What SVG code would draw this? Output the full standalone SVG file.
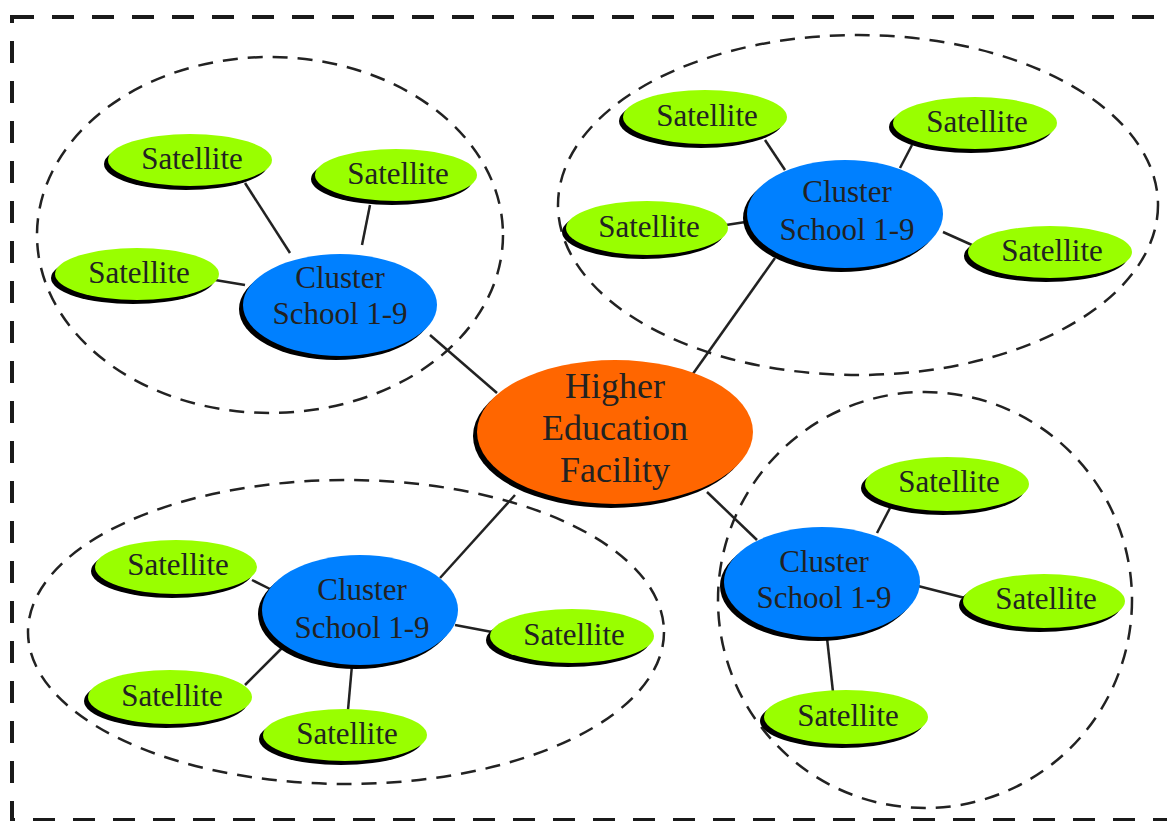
<svg xmlns="http://www.w3.org/2000/svg" width="1167" height="821" viewBox="0 0 1167 821">
<style>
.bg{fill:#fff}
.frame{fill:none;stroke:#1a1a1a;stroke-width:4;stroke-dasharray:22 18}
.grp{fill:none;stroke:#222;stroke-width:2.5;stroke-dasharray:15 10}
.ln{stroke:#222;stroke-width:2.5}
.sh{fill:#000}
.sat{fill:#99ff00}
.cl{fill:#0080ff}
.hq{fill:#ff6600}
text{font-family:"Liberation Serif","Times New Roman",serif;fill:#222;text-anchor:middle}
.ts{font-size:31px}
.tc{font-size:31px}
.th{font-size:36px}
</style>
<rect class="bg" width="1167" height="821"/>
<rect class="frame" x="12" y="17" width="1180" height="803"/>
<g id="groups">
<ellipse class="grp" cx="270" cy="235" rx="233" ry="178"/>
<ellipse class="grp" cx="858" cy="205" rx="300" ry="170"/>
<ellipse class="grp" cx="925" cy="600" rx="207" ry="208"/>
<ellipse class="grp" cx="346" cy="632" rx="318" ry="152"/>
</g>
<g id="connectors">
<line class="ln" x1="245" y1="183" x2="290" y2="253"/>
<line class="ln" x1="370" y1="205" x2="362" y2="245"/>
<line class="ln" x1="215" y1="280" x2="245" y2="285"/>
<line class="ln" x1="430" y1="335" x2="497" y2="393"/>
<line class="ln" x1="765" y1="140" x2="785" y2="170"/>
<line class="ln" x1="912" y1="145" x2="900" y2="168"/>
<line class="ln" x1="726" y1="225" x2="752" y2="221"/>
<line class="ln" x1="943" y1="232" x2="972" y2="245"/>
<line class="ln" x1="775" y1="258" x2="690" y2="378"/>
<line class="ln" x1="707" y1="492" x2="757" y2="540"/>
<line class="ln" x1="890" y1="508" x2="877" y2="533"/>
<line class="ln" x1="918" y1="586" x2="965" y2="598"/>
<line class="ln" x1="827" y1="638" x2="833" y2="692"/>
<line class="ln" x1="515" y1="495" x2="440" y2="578"/>
<line class="ln" x1="252" y1="580" x2="272" y2="590"/>
<line class="ln" x1="455" y1="625" x2="492" y2="632"/>
<line class="ln" x1="282" y1="648" x2="245" y2="685"/>
<line class="ln" x1="352" y1="665" x2="348" y2="710"/>
</g>
<g id="hq"><ellipse class="sh" cx="611" cy="436" rx="138" ry="72"/><ellipse class="hq" cx="615" cy="432" rx="138" ry="72"/><text class="th" x="615" y="398">Higher</text><text class="th" x="615" y="440">Education</text><text class="th" x="615" y="482">Facility</text></g>
<g id="cluster-tl"><ellipse class="sh" cx="336" cy="309" rx="97" ry="51"/><ellipse class="cl" cx="340" cy="305" rx="97" ry="51"/><text class="tc" x="340" y="288">Cluster</text><text class="tc" x="340" y="324">School 1-9</text></g>
<g id="cluster-tr"><ellipse class="sh" cx="841" cy="218" rx="98" ry="54"/><ellipse class="cl" cx="845" cy="214" rx="98" ry="54"/><text class="tc" x="847" y="202">Cluster</text><text class="tc" x="847" y="240">School 1-9</text></g>
<g id="cluster-br"><ellipse class="sh" cx="818" cy="586" rx="98" ry="55"/><ellipse class="cl" cx="822" cy="582" rx="98" ry="55"/><text class="tc" x="824" y="572">Cluster</text><text class="tc" x="824" y="608">School 1-9</text></g>
<g id="cluster-bl"><ellipse class="sh" cx="356" cy="614" rx="98" ry="55"/><ellipse class="cl" cx="360" cy="610" rx="98" ry="55"/><text class="tc" x="362" y="600">Cluster</text><text class="tc" x="362" y="638">School 1-9</text></g>
<g id="sat-tl1"><ellipse class="sh" cx="186" cy="164" rx="82" ry="26"/><ellipse class="sat" cx="190" cy="160" rx="82" ry="26"/><text class="ts" x="192" y="169">Satellite</text></g>
<g id="sat-tl2"><ellipse class="sh" cx="392" cy="179" rx="81" ry="26"/><ellipse class="sat" cx="396" cy="175" rx="81" ry="26"/><text class="ts" x="398" y="184">Satellite</text></g>
<g id="sat-tl3"><ellipse class="sh" cx="133" cy="278" rx="82" ry="26"/><ellipse class="sat" cx="137" cy="274" rx="82" ry="26"/><text class="ts" x="139" y="283">Satellite</text></g>
<g id="sat-tr1"><ellipse class="sh" cx="701" cy="121" rx="82" ry="27"/><ellipse class="sat" cx="705" cy="117" rx="82" ry="27"/><text class="ts" x="707" y="126">Satellite</text></g>
<g id="sat-tr2"><ellipse class="sh" cx="971" cy="127" rx="82" ry="26"/><ellipse class="sat" cx="975" cy="123" rx="82" ry="26"/><text class="ts" x="977" y="132">Satellite</text></g>
<g id="sat-tr3"><ellipse class="sh" cx="643" cy="232" rx="81" ry="27"/><ellipse class="sat" cx="647" cy="228" rx="81" ry="27"/><text class="ts" x="649" y="237">Satellite</text></g>
<g id="sat-tr4"><ellipse class="sh" cx="1046" cy="256" rx="82" ry="26"/><ellipse class="sat" cx="1050" cy="252" rx="82" ry="26"/><text class="ts" x="1052" y="261">Satellite</text></g>
<g id="sat-br1"><ellipse class="sh" cx="943" cy="488" rx="82" ry="27"/><ellipse class="sat" cx="947" cy="484" rx="82" ry="27"/><text class="ts" x="949" y="492">Satellite</text></g>
<g id="sat-br2"><ellipse class="sh" cx="1040" cy="605" rx="81" ry="27"/><ellipse class="sat" cx="1044" cy="601" rx="81" ry="27"/><text class="ts" x="1046" y="609">Satellite</text></g>
<g id="sat-br3"><ellipse class="sh" cx="842" cy="721" rx="82" ry="27"/><ellipse class="sat" cx="846" cy="717" rx="82" ry="27"/><text class="ts" x="848" y="726">Satellite</text></g>
<g id="sat-bl1"><ellipse class="sh" cx="172" cy="571" rx="81" ry="27"/><ellipse class="sat" cx="176" cy="567" rx="81" ry="27"/><text class="ts" x="178" y="575">Satellite</text></g>
<g id="sat-bl2"><ellipse class="sh" cx="568" cy="640" rx="82" ry="27"/><ellipse class="sat" cx="572" cy="636" rx="82" ry="27"/><text class="ts" x="574" y="645">Satellite</text></g>
<g id="sat-bl3"><ellipse class="sh" cx="166" cy="701" rx="82" ry="27"/><ellipse class="sat" cx="170" cy="697" rx="82" ry="27"/><text class="ts" x="172" y="706">Satellite</text></g>
<g id="sat-bl4"><ellipse class="sh" cx="341" cy="739" rx="82" ry="26"/><ellipse class="sat" cx="345" cy="735" rx="82" ry="26"/><text class="ts" x="347" y="744">Satellite</text></g>
</svg>
